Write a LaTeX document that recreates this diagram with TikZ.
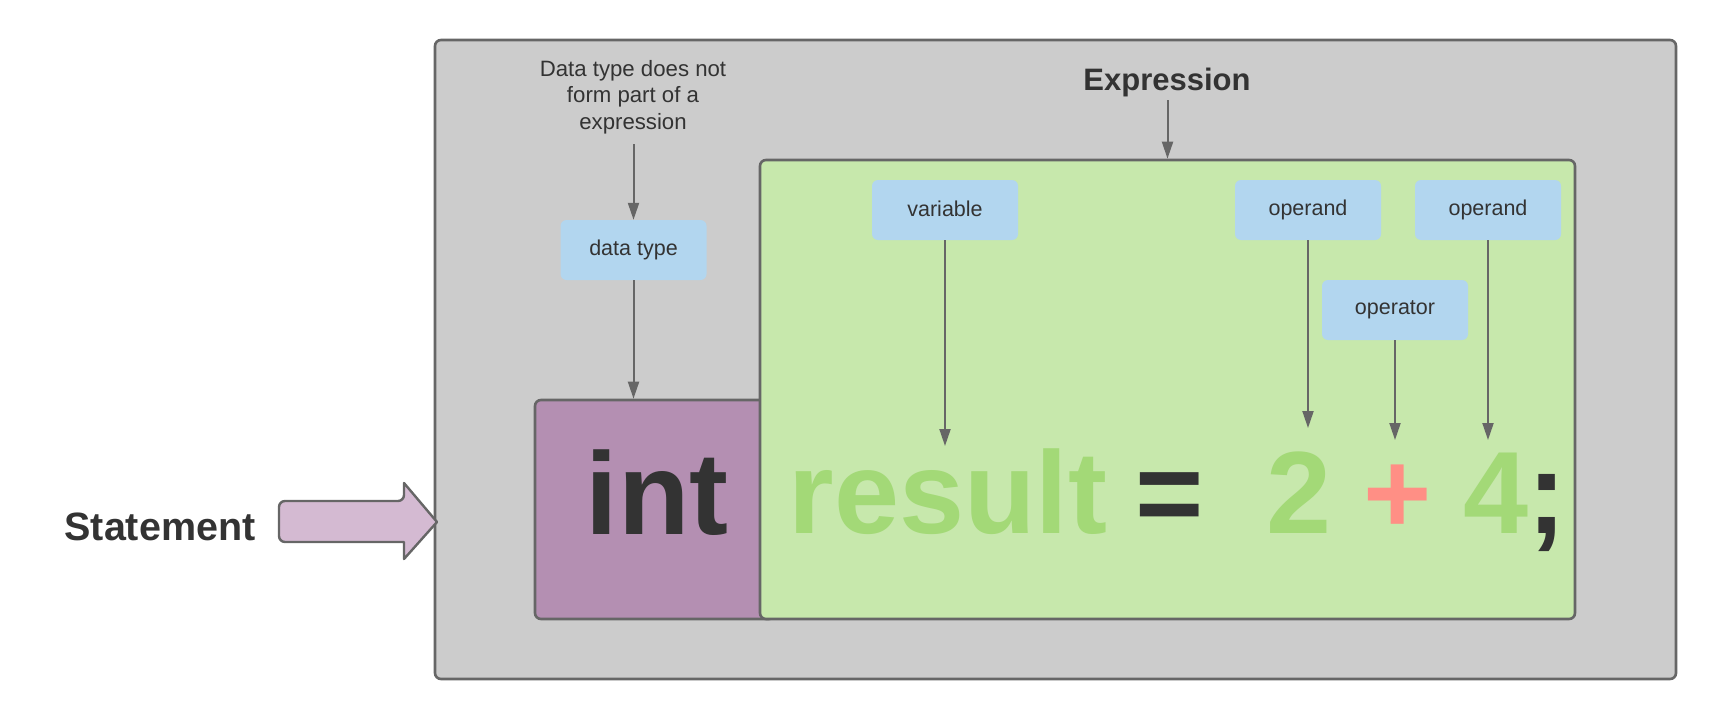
\documentclass[tikz,border=0pt]{standalone}
\usepackage{fontspec}
\setmainfont{Liberation Sans}
\usetikzlibrary{arrows.meta}
\definecolor{bggray}{HTML}{CCCCCC}
\definecolor{edgegray}{HTML}{666666}
\definecolor{exprgreen}{HTML}{C7E8AC}
\definecolor{txtgreen}{HTML}{A3D977}
\definecolor{typepurple}{HTML}{B48FB2}
\definecolor{arrowpurple}{HTML}{D4BAD2}
\definecolor{labelblue}{HTML}{B2D6EF}
\definecolor{opred}{HTML}{FF8F85}
\definecolor{ink}{HTML}{333333}
\begin{document}
\begin{tikzpicture}[x=1pt,y=-1pt,
  panel/.style={draw=edgegray, line width=2.6pt, rounded corners=6pt, inner sep=0pt},
  tag/.style={fill=labelblue, rounded corners=6pt, minimum width=146pt, minimum height=60pt, inner sep=0pt, text=ink, font=\fontsize{21.5}{25}\selectfont},
  conn/.style={draw=edgegray, line width=2pt, -{Triangle[length=17pt,width=11pt]}},
  bigtxt/.style={inner sep=0pt, anchor=base, font=\fontsize{117}{120}\selectfont\bfseries}
]
\useasboundingbox (0,0) rectangle (1715,720);
% panels
\node[panel, fill=bggray, minimum width=1241pt, minimum height=639pt] (stmt) at (1055.5,359.5) {};
\node[panel, fill=typepurple, minimum width=240pt, minimum height=219pt] (typebox) at (655,509.5) {};
\node[panel, fill=exprgreen, minimum width=815pt, minimum height=459pt] (exprbox) at (1167.5,389.5) {};
% label boxes
\node[tag] (dtype) at (633.5,250) {data type};
\node[tag] (var) at (945,210) {\raisebox{2pt}{variable}};
\node[tag] (opnd1) at (1308,210) {operand};
\node[tag] (opnd2) at (1488,210) {operand};
\node[tag] (oper) at (1395,310) {operator};
% texts
\node[inner sep=0pt, anchor=base, text=ink, font=\fontsize{31}{36}\selectfont\bfseries] (exprlbl) at (1167,90) {Expression};
\node[inner sep=0pt, anchor=base, text=ink, font=\fontsize{39.5}{44}\selectfont\bfseries] (stmtlbl) at (160,540) {Statement};
\node[inner sep=0pt, align=center, text=ink, font=\fontsize{22.2}{26.5}\selectfont] (note) at (633,97) {Data type does not\\form part of a\\expression};
% big code
\node[bigtxt, text=ink] (kwint) at (657,534) {int};
\node[bigtxt, text=txtgreen] (vres) at (948,533) {result};
\node[bigtxt, text=ink] (eqs) at (1170,533) {=};
\node[bigtxt, text=txtgreen] (two) at (1299,533) {2};
\node[bigtxt, text=opred] (plus) at (1398,533) {+};
\node[bigtxt, text=txtgreen] (four) at (1496,533) {4};
\node[bigtxt, text=ink] (semi) at (1547,533) {;};
% statement arrow
\draw[draw=edgegray, line width=2.4pt, fill=arrowpurple, line join=round]
  (404,501) -- (404,483) -- (437,522) -- (404,559) -- (404,542)
  [rounded corners=6pt] -- (279,542) -- (279,501) -- cycle;
% connectors
\coordinate (noteEnd) at (633.5,144);
\coordinate (exprStart) at (1167.5,100);
\coordinate (varEnd) at (945,446);
\coordinate (o1End) at (1308,428);
\coordinate (opEnd) at (1395,440);
\coordinate (o2End) at (1488,440);
\draw[conn] (noteEnd) -- (dtype.north);
\draw[conn] (dtype.south) -- (dtype.south |- typebox.north);
\draw[conn] (exprStart) -- (exprbox.north);
\draw[conn] (var.south) -- (varEnd);
\draw[conn] (opnd1.south) -- (o1End);
\draw[conn] (oper.south) -- (opEnd);
\draw[conn] (opnd2.south) -- (o2End);
\end{tikzpicture}
\end{document}
